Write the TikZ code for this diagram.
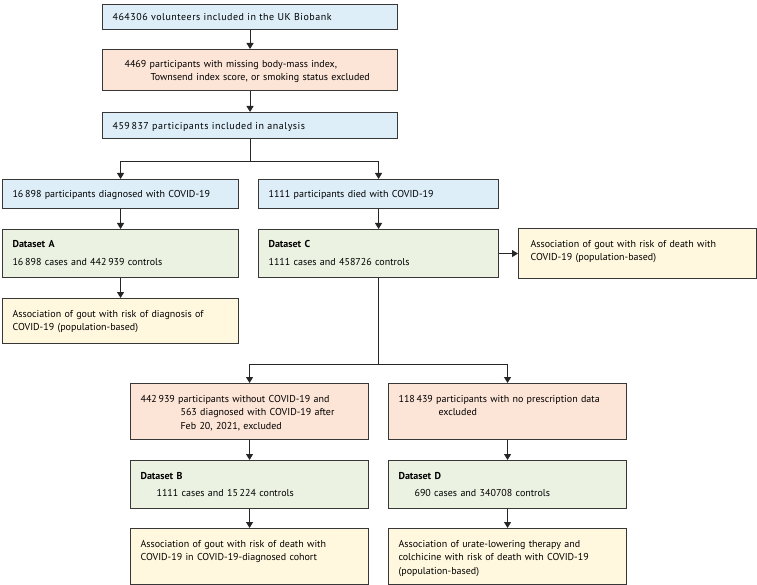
\documentclass[tikz,border=0pt]{standalone}
\usepackage{fontspec}
\setmainfont{PT Sans}
\usetikzlibrary{arrows.meta}

\definecolor{boxblue}{RGB}{221,238,248}
\definecolor{boxred}{RGB}{252,228,214}
\definecolor{boxgreen}{RGB}{235,242,226}
\definecolor{boxyellow}{RGB}{255,248,222}
\definecolor{edgegray}{RGB}{55,55,55}

\begin{document}
\begin{tikzpicture}[x=1pt, y=-1pt,
    box/.style={draw=edgegray, line width=1.1pt, anchor=north west, align=left,
      inner xsep=10pt, inner ysep=0pt, font=\fontsize{10}{13.5}\selectfont},
    wide/.style={font=\fontsize{10}{13.5}\selectfont\addfontfeatures{LetterSpace=5}},
    arr/.style={-{Triangle[width=7pt,length=6pt]}, line width=1pt, draw=black!85}]
  \useasboundingbox (0,0) rectangle (757,585);

  % Cohort selection
  \node[box, wide, fill=boxblue, text width=275pt, text height=15.5pt, text depth=9.5pt] (b1) at (102,4)
    {464306 volunteers included in the UK Biobank};
  \node[box, fill=boxred, text width=275pt, text height=17.5pt, text depth=23.5pt] (b2) at (102,49)
    {\hspace*{12pt}4469 participants with missing body-mass index,\\
     \hspace*{38pt}Townsend index score, or smoking status excluded};
  \node[box, wide, fill=boxblue, text width=275pt, text height=16.5pt, text depth=9.5pt] (b3) at (102,112)
    {459\,837 participants included in analysis};

  % Outcomes
  \node[box, fill=boxblue, text width=216pt, text height=18pt, text depth=11pt] (diag) at (2,179)
    {16\,898 participants diagnosed with COVID-19};
  \node[box, fill=boxblue, text width=220pt, text height=18pt, text depth=11pt] (died) at (258,179)
    {1111 participants died with COVID-19};

  % Datasets A and C
  \node[box, fill=boxgreen, text width=216pt, text height=17.5pt, text depth=30.5pt] (dsA) at (2,229)
    {\textbf{Dataset A}\\[4.5pt]16\,898 cases and 442\,939 controls};
  \node[box, fill=boxgreen, text width=220pt, text height=17.5pt, text depth=30.5pt] (dsC) at (258,229)
    {\textbf{Dataset C}\\[4.5pt]1111 cases and 458726 controls};
  \node[box, fill=boxyellow, text width=216pt, text height=18.5pt, text depth=26.5pt] (asA) at (2,298)
    {Association of gout with risk of diagnosis of\\COVID-19 (population-based)};
  \node[box, fill=boxyellow, text width=214pt, inner xsep=12pt, text height=18.5pt, text depth=31.5pt] (asC) at (518,228)
    {Association of gout with risk of death with\\COVID-19 (population-based)};

  % Exclusions
  \node[box, fill=boxred, text width=218pt, text height=18.5pt, text depth=37.5pt] (exB) at (130,383)
    {442\,939 participants without COVID-19 and\\
     \hspace*{40pt}563 diagnosed with COVID-19 after\\
     \hspace*{40pt}Feb 20, 2021, excluded};
  \node[box, fill=boxred, text width=218pt, text height=18.5pt, text depth=37.5pt] (exD) at (388,383)
    {118\,439 participants with no prescription data\\
     \hspace*{40pt}excluded};

  % Datasets B and D
  \node[box, fill=boxgreen, text width=218pt, text height=18.5pt, text depth=29.5pt] (dsB) at (130,460)
    {\textbf{Dataset B}\\[3.5pt]\hspace*{16pt}1111 cases and 15\,224 controls};
  \node[box, fill=boxgreen, text width=218pt, text height=18.5pt, text depth=29.5pt] (dsD) at (388,460)
    {\textbf{Dataset D}\\[3.5pt]\hspace*{16pt}690 cases and 340708 controls};
  \node[box, fill=boxyellow, text width=218pt, text height=18.5pt, text depth=37.5pt] (asB) at (130,528)
    {Association of gout with risk of death with\\COVID-19 in COVID-19-diagnosed cohort};
  \node[box, fill=boxyellow, text width=218pt, text height=18.5pt, text depth=37.5pt] (asD) at (388,528)
    {Association of urate-lowering therapy and\\colchicine with risk of death with COVID-19\\(population-based)};

  % Arrows
  \draw[arr] (b1.south) -- (b2.north);
  \draw[arr] (b2.south) -- (b3.north);
  \draw[arr] (b3.south) -- ++(0,22) -| (diag.north);
  \draw[arr] (b3.south) -- ++(0,22) -| (died.north);
  \draw[arr] (diag) -- (dsA);
  \draw[arr] (died) -- (dsC);
  \draw[arr] (dsA) -- (asA);
  \draw[arr] (dsC) -- (asC);
  \draw[arr] (dsC.south) -- ++(0,86) -| (exB.north);
  \draw[arr] (dsC.south) -- ++(0,86) -| (exD.north);
  \draw[arr] (exB) -- (dsB);
  \draw[arr] (dsB) -- (asB);
  \draw[arr] (exD) -- (dsD);
  \draw[arr] (dsD) -- (asD);
\end{tikzpicture}
\end{document}
